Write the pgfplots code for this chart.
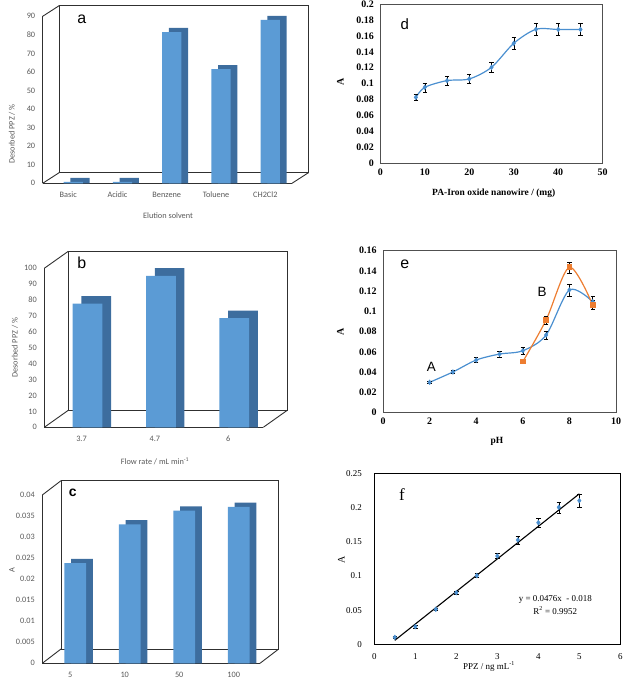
\documentclass[border=0pt]{standalone}
\usepackage{pgfplots}
\pgfplotsset{compat=1.18}
\usepackage{fontspec}
\setmainfont{Liberation Serif}
\newfontfamily\calfont{Carlito}
\newfontfamily\ari{Liberation Sans}
\newfontfamily\tms{Liberation Serif}
\definecolor{barf}{HTML}{5B9BD5}
\definecolor{bars}{HTML}{3D6D9E}
\definecolor{lblue}{HTML}{4A8FD0}
\definecolor{lorange}{HTML}{ED7D31}
\definecolor{txtg}{HTML}{595959}
\definecolor{frameg}{HTML}{303030}
\definecolor{axg}{HTML}{505050}
\pgfplotsset{
 bar3d/.style={scale only axis, anchor=south west, clip=false,
   axis x line=bottom, axis y line=left, axis line style={draw=frameg, line width=0.9bp, -},
   major tick length=0pt, scaled y ticks=false,
   /pgf/number format/assume math mode=true,
   tick label style={font=\calfont\fontsize{8.3}{10}\selectfont, text=txtg},
   yticklabel style={xshift=-4bp},
   xticklabel style={xshift=-5bp, yshift=-5bp}},
 wall/.style={draw=frameg, line width=0.9bp, mark=none, forget plot},
 sci/.style={scale only axis, anchor=south west, axis line style={draw=axg, line width=0.7bp},
   major tick length=0pt, scaled ticks=false,
   /pgf/number format/assume math mode=true,
   tick label style={font=\tms\bfseries\fontsize{10}{12}\selectfont},
   yticklabel style={/pgf/number format/fixed, /pgf/number format/precision=2, xshift=-3bp},
   xticklabel style={yshift=-2bp}},
 errs/.style={error bars/.cd, y dir=both, y explicit,
   error bar style={black, line width=0.5bp},
   error mark options={black, line width=0.5bp, mark size=2.2bp, rotate=90}}
}
\begin{document}
\begin{tikzpicture}[x=1bp,y=1bp]
\path[use as bounding box] (0,0) rectangle (624,684);

% ---------- panel a ----------
\begin{axis}[bar3d, at={(42.7bp,500.7bp)}, width=249.3bp, height=167bp,
  xmin=-0.62, xmax=4.44, ymin=0, ymax=90, ytick={0,10,...,90},
  xtick={0,1,2,3,4}, xticklabels={Basic,Acidic,Benzene,Toluene,CH2Cl2}, bar width=19.3bp]
  \addplot[wall] coordinates {(-0.2831,5.766) (4.7769,5.766) (4.7769,95.766) (-0.2831,95.766) (-0.2831,5.766)};
  \addplot[wall] coordinates {(-0.62,0) (-0.2831,5.766)};
  \addplot[wall] coordinates {(-0.62,90) (-0.2831,95.766)};
  \addplot[wall] coordinates {(4.44,0) (4.7769,5.766)};
  \addplot[ybar, bar shift=6.7bp, fill=bars, draw=none] coordinates {(0,2.9) (1,2.9) (2,83.7) (3,63.7) (4,90.2)};
  \addplot[ybar, bar shift=0bp, fill=barf, draw=none] coordinates {(0,0.8) (1,0.8) (2,81.5) (3,61.5) (4,88)};
\end{axis}
\node[font=\ari\fontsize{16}{16}\selectfont] at (81.7,664.7) {a};
\node[rotate=90, font=\calfont\fontsize{8.3}{10}\selectfont, text=txtg] at (12,550) {Desorbed PPZ / \%};
\node[font=\calfont\fontsize{8.3}{10}\selectfont, text=txtg] at (168,468) {Elution solvent};

% ---------- panel b ----------
\begin{axis}[bar3d, at={(44.3bp,256.7bp)}, width=219bp, height=159bp,
  xmin=-0.589, xmax=2.395, ymin=0, ymax=100, ytick={0,10,...,100},
  xtick={0,1,2}, xticklabels={3.7,4.7,6}, bar width=29.7bp, xticklabel style={xshift=-1bp}]
  \addplot[wall] coordinates {(-0.262,10.692) (2.722,10.692) (2.722,110.692) (-0.262,110.692) (-0.262,10.692)};
  \addplot[wall] coordinates {(-0.589,0) (-0.262,10.692)};
  \addplot[wall] coordinates {(-0.589,100) (-0.262,110.692)};
  \addplot[wall] coordinates {(2.395,0) (2.722,10.692)};
  \addplot[ybar, bar shift=8.7bp, fill=bars, draw=none] coordinates {(0,82.5) (1,100.1) (2,73.4)};
  \addplot[ybar, bar shift=0bp, fill=barf, draw=none] coordinates {(0,77.7) (1,95.3) (2,68.6)};
\end{axis}
\node[font=\ari\fontsize{16}{16}\selectfont] at (81.7,420.7) {b};
\node[rotate=90, font=\calfont\fontsize{8.3}{10}\selectfont, text=txtg] at (15,336.3) {Desorbed PPZ / \%};
\node[font=\calfont\fontsize{8.3}{10}\selectfont, text=txtg] at (155,222.7) {Flow rate / mL min\textsuperscript{-1}};

% ---------- panel c ----------
\begin{axis}[bar3d, at={(42.3bp,20.7bp)}, width=217.7bp, height=168.3bp,
  xmin=-0.604, xmax=3.39, ymin=0, ymax=0.04, ytick={0,0.005,...,0.04},
  yticklabel style={/pgf/number format/fixed, /pgf/number format/precision=3},
  xtick={0,1,2,3}, xticklabels={5,10,50,100}, bar width=21.7bp]
  \addplot[wall] coordinates {(-0.2609,0.003399) (3.7331,0.003399) (3.7331,0.043399) (-0.2609,0.043399) (-0.2609,0.003399)};
  \addplot[wall] coordinates {(-0.604,0) (-0.2609,0.003399)};
  \addplot[wall] coordinates {(-0.604,0.04) (-0.2609,0.043399)};
  \addplot[wall] coordinates {(3.39,0) (3.7331,0.003399)};
  \addplot[ybar, bar shift=6.7bp, fill=bars, draw=none] coordinates {(0,0.0248) (1,0.0340) (2,0.0373) (3,0.0382)};
  \addplot[ybar, bar shift=0bp, fill=barf, draw=none] coordinates {(0,0.0238) (1,0.0330) (2,0.0363) (3,0.0372)};
\end{axis}
\node[font=\ari\bfseries\fontsize{14}{14}\selectfont] at (72.7,190.7) {c};
\node[rotate=90, font=\calfont\fontsize{8.3}{10}\selectfont, text=txtg] at (12,114) {A};

% ---------- panel d ----------
\begin{axis}[sci, at={(380.3bp,520.7bp)}, width=222.4bp, height=159.3bp,
  xmin=0, xmax=50, ymin=0, ymax=0.2, xtick={0,10,...,50}, ytick={0,0.02,...,0.2}]
  \addplot[lblue, line width=1.2bp, smooth, mark=diamond*, mark size=1.8bp, mark options={fill=lblue, draw=lblue}, errs]
   coordinates {(8,0.0828) +- (0,0.004) (10,0.0954) +- (0,0.0056) (15,0.1038) +- (0,0.006) (20,0.1059) +- (0,0.0059)
   (25,0.1205) +- (0,0.0063) (30,0.1506) +- (0,0.0075) (35,0.1682) +- (0,0.0077) (40,0.168) +- (0,0.0077) (45,0.168) +- (0,0.0077)};
\end{axis}
\node[font=\ari\fontsize{15}{15}\selectfont] at (404.7,660) {d};
\node[rotate=90, font=\tms\bfseries\fontsize{10}{12}\selectfont] at (340.3,602.3) {A};
\node[font=\tms\bfseries\fontsize{9.5}{11}\selectfont] at (493.7,490.7) {PA-Iron oxide nanowire / (mg)};

% ---------- panel e ----------
\begin{axis}[sci, at={(383bp,271.3bp)}, width=233bp, height=162bp,
  xmin=0, xmax=10, ymin=0, ymax=0.16, xtick={0,2,...,10}, ytick={0,0.02,...,0.16}]
  \addplot[lblue, line width=1.2bp, smooth, mark=diamond*, mark size=1.8bp, mark options={fill=lblue, draw=lblue}, errs]
   coordinates {(2,0.030) +- (0,0.001) (3,0.0402) +- (0,0.0015) (4,0.052) +- (0,0.0025) (5,0.0579) +- (0,0.003)
   (6,0.0612) +- (0,0.0035) (7,0.0767) +- (0,0.004) (8,0.1212) +- (0,0.006) (9,0.1096) +- (0,0.005)};
  \addplot[lorange, line width=1.2bp, smooth, mark=square*, mark size=2.2bp, mark options={fill=lorange, draw=lorange}, errs]
   coordinates {(6,0.0504) +- (0,0.0005) (7,0.0916) +- (0,0.004) (8,0.1436) +- (0,0.0054) (9,0.1064) +- (0,0.0045)};
\end{axis}
\node[font=\ari\fontsize{16}{16}\selectfont] at (404.7,419.7) {e};
\node[font=\ari\fontsize{13.5}{14}\selectfont] at (431.3,317.3) {A};
\node[font=\ari\fontsize{13.5}{14}\selectfont] at (542,392.3) {B};
\node[rotate=90, font=\tms\bfseries\fontsize{10}{12}\selectfont] at (340.3,352.3) {A};
\node[font=\tms\bfseries\fontsize{9.5}{11}\selectfont] at (497,242.3) {pH};

% ---------- panel f ----------
\begin{axis}[sci, at={(374.3bp,39.7bp)}, width=246bp, height=171bp,
  axis line style={draw=black, line width=1bp},
  tick label style={font=\tms\fontsize{9}{11}\selectfont},
  xmin=0, xmax=6, ymin=0, ymax=0.25, xtick={0,1,...,6}, ytick={0,0.05,...,0.25},
  yticklabel style={xshift=-6bp}, xticklabel style={yshift=-4bp}]
  \addplot[black, line width=1.1bp] coordinates {(0.5,0.0058) (5,0.22)};
  \addplot[only marks, mark=diamond*, mark size=2.4bp, mark options={fill=lblue, draw=lblue}, errs]
   coordinates {(0.5,0.0102) +- (0,0.002) (1,0.0258) +- (0,0.002) (1.5,0.0512) +- (0,0.002) (2,0.0755) +- (0,0.002)
   (2.5,0.1004) +- (0,0.003) (3,0.1291) +- (0,0.004) (3.5,0.1525) +- (0,0.006) (4,0.1779) +- (0,0.007)
   (4.5,0.2003) +- (0,0.008) (5,0.210) +- (0,0.009)};
\end{axis}
\node[font=\tms\fontsize{17}{17}\selectfont] at (402,189) {f};
\node[rotate=90, font=\tms\fontsize{10}{12}\selectfont] at (341.3,124) {A};
\node[font=\tms\fontsize{9}{11}\selectfont] at (555.3,85) {y = 0.0476x \ - 0.018};
\node[font=\tms\fontsize{9}{11}\selectfont] at (555.3,73.3) {R\textsuperscript{2} = 0.9952};
\node[font=\tms\fontsize{9}{11}\selectfont] at (489,17.3) {PPZ / ng mL\textsuperscript{-1}};
\end{tikzpicture}
\end{document}
